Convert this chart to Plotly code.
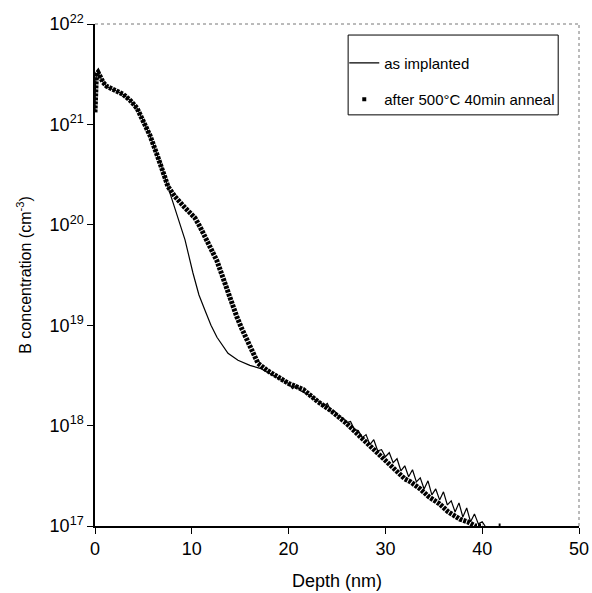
import plotly.graph_objects as go

# ---- data (depth in nm, concentration in cm^-3) ----
implanted_depth = [0.00, 0.05, 0.15, 0.31, 0.55, 0.83, 1.20, 1.55, 2.27, 2.89, 3.62, 4.34, 4.96,
                   5.68, 6.40, 6.92, 7.23, 7.54, 8.00, 8.47, 9.30, 10.12, 10.74, 11.36, 11.98,
                   12.60, 13.20, 13.74, 14.77, 16.00, 17.05, 18.10, 19.10,
                   20.0, 20.4, 20.8, 21.2, 21.6, 22.0, 22.4, 22.8, 23.2, 23.6, 24.0, 24.4, 24.8,
                   25.2, 25.6, 26.0, 26.4, 26.8, 27.2, 27.6, 28.0, 28.4, 28.8, 29.2, 29.6, 30.0,
                   30.4, 30.8, 31.2, 31.6, 32.0, 32.4, 32.8, 33.2, 33.6, 34.0, 34.4, 34.8, 35.2,
                   35.6, 36.0, 36.4, 36.8, 37.2, 37.6, 38.0, 38.4, 38.8, 39.2, 39.6, 40.0, 40.3]
implanted_conc = [1.32e21, 2.51e21, 3.16e21, 3.31e21, 2.95e21, 2.63e21, 2.40e21, 2.29e21, 2.14e21,
                  2.00e21, 1.74e21, 1.45e21, 1.10e21, 7.76e20, 5.01e20, 3.72e20, 2.95e20, 2.40e20,
                  1.74e20, 1.26e20, 7.08e19, 3.31e19, 2.00e19, 1.41e19, 1.00e19, 7.59e18, 6.17e18,
                  5.25e18, 4.47e18, 3.98e18, 3.72e18, 3.31e18, 2.95e18,
                  2.63e18, 2.34e18, 2.51e18, 2.24e18, 2.14e18, 2.04e18, 1.95e18, 1.78e18, 1.74e18,
                  1.55e18, 1.66e18, 1.38e18, 1.38e18, 1.23e18, 1.20e18, 1.07e18, 1.10e18, 9.12e17,
                  8.91e17, 7.59e17, 8.13e17, 6.46e17, 7.24e17, 5.62e17, 5.75e17, 4.90e17, 5.37e17,
                  4.27e17, 4.68e17, 3.55e17, 3.98e17, 3.09e17, 3.63e17, 2.75e17, 3.02e17, 2.34e17,
                  2.82e17, 2.04e17, 2.34e17, 1.82e17, 2.19e17, 1.62e17, 1.78e17, 1.38e17, 1.70e17,
                  1.23e17, 1.51e17, 1.10e17, 1.32e17, 1.05e17, 1.10e17, 1.00e17]

anneal_depth = [0.00, 0.05, 0.15, 0.31, 0.55, 0.83, 1.20, 1.55, 2.27, 2.89, 3.62, 4.34, 4.96,
                5.68, 6.40, 6.92, 7.23, 7.54, 8.26, 9.30, 10.33, 10.85, 11.36, 11.98, 12.60,
                13.12, 13.64, 14.15, 14.67, 15.19, 15.70, 16.22, 16.84, 17.77, 19.11, 20.0,
                21.5, 23.0, 24.5, 26.0, 27.4, 28.5, 29.4, 30.5, 31.5, 32.0, 32.6, 33.6, 34.5,
                35.6, 36.5, 37.7, 38.5, 39.3, 40.0, None, 41.7, 41.9]
anneal_conc = [1.32e21, 2.51e21, 3.16e21, 3.31e21, 2.95e21, 2.63e21, 2.40e21, 2.29e21, 2.14e21,
               2.00e21, 1.74e21, 1.45e21, 1.10e21, 7.76e20, 5.01e20, 3.72e20, 2.95e20, 2.40e20,
               1.91e20, 1.48e20, 1.17e20, 9.55e19, 7.59e19, 5.75e19, 4.37e19, 3.16e19, 2.24e19,
               1.62e19, 1.20e19, 9.12e18, 7.08e18, 5.37e18, 4.17e18, 3.55e18, 2.95e18, 2.63e18,
               2.29e18, 1.74e18, 1.38e18, 1.05e18, 7.76e17, 6.17e17, 5.13e17, 4.17e17, 3.39e17,
               2.95e17, 2.75e17, 2.34e17, 1.95e17, 1.66e17, 1.38e17, 1.17e17, 1.10e17, 1.00e17,
               1.00e17, None, 1.00e17, 1.00e17]

x_ticks = [0, 10, 20, 30, 40, 50]
y_tickvals = [1e17, 1e18, 1e19, 1e20, 1e21, 1e22]
y_ticktext = ["10<sup>17</sup>", "10<sup>18</sup>", "10<sup>19</sup>", "10<sup>20</sup>",
              "10<sup>21</sup>", "10<sup>22</sup>"]

FONT = "Liberation Sans, Arial, sans-serif"

fig = go.Figure()

fig.add_trace(go.Scatter(
    x=anneal_depth, y=anneal_conc, mode="lines",
    line=dict(color="black", width=5, dash="3px,1px"),
    showlegend=False, connectgaps=False, hoverinfo="skip"))

fig.add_trace(go.Scatter(
    x=implanted_depth, y=implanted_conc, mode="lines",
    line=dict(color="black", width=1.2),
    name="as implanted", legendgroup="a"))

fig.add_trace(go.Scatter(
    x=[None], y=[None], mode="markers",
    marker=dict(color="black", symbol="square", size=4),
    name="after 500°C 40min anneal", legendgroup="b"))

# legend frame, top/right dotted borders
fig.add_shape(type="rect", xref="paper", yref="paper",
              x0=0.523, x1=0.957, y0=0.819, y1=0.978,
              line=dict(color="black", width=1), fillcolor="white", layer="below")
fig.add_shape(type="line", xref="paper", yref="paper", x0=0, x1=1, y0=1, y1=1,
              line=dict(color="#777777", width=1, dash="dot"))
fig.add_shape(type="line", xref="paper", yref="paper", x0=1, x1=1, y0=0, y1=1,
              line=dict(color="#777777", width=1, dash="dot"))

fig.update_layout(
    width=592, height=593,
    margin=dict(l=95, r=13, t=24, b=67),
    paper_bgcolor="white", plot_bgcolor="white",
    font=dict(family=FONT, color="black"),
    showlegend=True,
    legend=dict(x=0.515, y=0.955, xanchor="left", yanchor="top",
                bgcolor="rgba(0,0,0,0)", borderwidth=0,
                font=dict(size=15, family=FONT),
                traceorder="grouped", tracegroupgap=14, itemwidth=30),
    xaxis=dict(range=[0, 50], tickvals=x_ticks, ticks="outside", ticklen=6,
               tickcolor="black", showline=True, linecolor="black", linewidth=1.5,
               showgrid=False, zeroline=False, tickfont=dict(size=18), automargin=False,
               title=dict(text="Depth (nm)", font=dict(size=18), standoff=16)),
    yaxis=dict(type="log", range=[17, 22], tickvals=y_tickvals, ticktext=y_ticktext,
               ticks="outside", ticklen=6, tickcolor="black", showline=True,
               linecolor="black", linewidth=1.5, showgrid=False, zeroline=False,
               tickfont=dict(size=18), automargin=False,
               title=dict(text="B concentration (cm<sup>-3</sup>)", font=dict(size=16),
                          standoff=14)),
)

fig.write_html("out.html")
